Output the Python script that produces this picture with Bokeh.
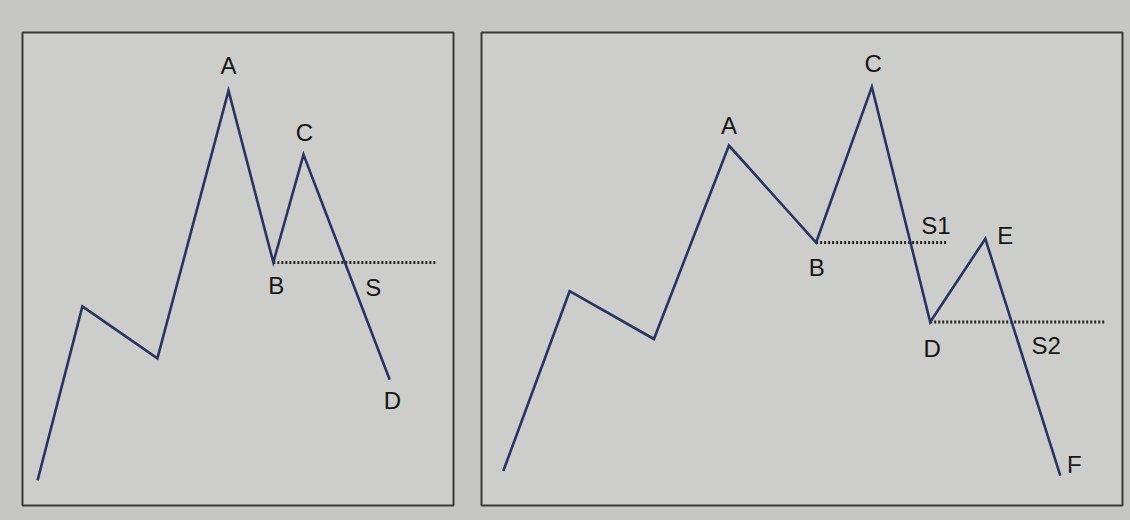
from bokeh.plotting import figure
from bokeh.layouts import row
from bokeh.models import Range1d, ColumnDataSource
from bokeh.core.properties import value
from bokeh.embed import file_html
from bokeh.resources import INLINE

# ---- Left panel: single support break (S) ----
left_x = [3.5, 13.9, 31.3, 47.8, 58.2, 65.2, 85.2]
left_y = [5.3, 42.1, 31.1, 87.7, 51.4, 74.2, 26.6]
left_support_x0 = [58.2]
left_support_x1 = [95.8]
left_support_y = [51.4]
left_labels = ["A", "C", "B", "S", "D"]
left_label_x = [47.8, 65.4, 58.9, 81.4, 85.8]
left_label_y = [93.0, 78.9, 46.5, 46.1, 22.2]

# ---- Right panel: two support breaks (S1, S2) ----
right_x = [3.4, 13.75, 26.9, 38.6, 52.2, 60.9, 70.0, 78.6, 90.3]
right_y = [7.3, 45.3, 35.2, 76.1, 55.6, 88.5, 38.8, 56.4, 6.3]
right_support_x0 = [52.2, 70.0]
right_support_x1 = [72.5, 97.2]
right_support_y = [55.6, 38.8]
right_labels = ["C", "A", "S1", "E", "B", "D", "S2", "F"]
right_label_x = [61.1, 38.6, 70.9, 81.7, 52.3, 70.3, 88.1, 92.5]
right_label_y = [93.5, 80.3, 59.3, 57.0, 50.3, 33.1, 33.8, 8.6]

OUTER = "#c6c6c4"
INNER = "#cdcdcb"
LINE = "#2d3360"
TEXT = "#151515"


def panel(width, height, borders, xs, ys, sx0, sx1, sy, labels, lx, ly):
    l, r, t, b = borders
    p = figure(width=width, height=height, output_backend="svg",
               toolbar_location=None, x_axis_location=None, y_axis_location=None,
               x_range=Range1d(0, 100), y_range=Range1d(0, 100),
               min_border_left=l, min_border_right=r,
               min_border_top=t, min_border_bottom=b)
    p.grid.visible = False
    p.background_fill_color = INNER
    p.border_fill_color = OUTER
    p.outline_line_color = "#3a3a3a"
    p.outline_line_width = 2
    p.segment(x0=sx0, x1=sx1, y0=sy, y1=sy, line_color="#222222",
              line_width=3, line_dash="2 2")
    p.line(xs, ys, line_color=LINE, line_width=2.6, line_join="miter")
    src = ColumnDataSource(dict(x=lx, y=ly, t=labels))
    p.text(x="x", y="y", text="t", source=src, text_font=value("Liberation Sans"),
           text_font_size="24px", text_align="center", text_baseline="middle",
           text_color=TEXT)
    return p


p1 = panel(467, 520, (22, 14, 32, 15), left_x, left_y, left_support_x0,
           left_support_x1, left_support_y, left_labels, left_label_x, left_label_y)
p2 = panel(663, 520, (14, 8, 31, 12), right_x, right_y, right_support_x0,
           right_support_x1, right_support_y, right_labels, right_label_x, right_label_y)

layout = row(p1, p2, styles={"background-color": OUTER})
open("out.html", "w").write(file_html(layout, INLINE))
